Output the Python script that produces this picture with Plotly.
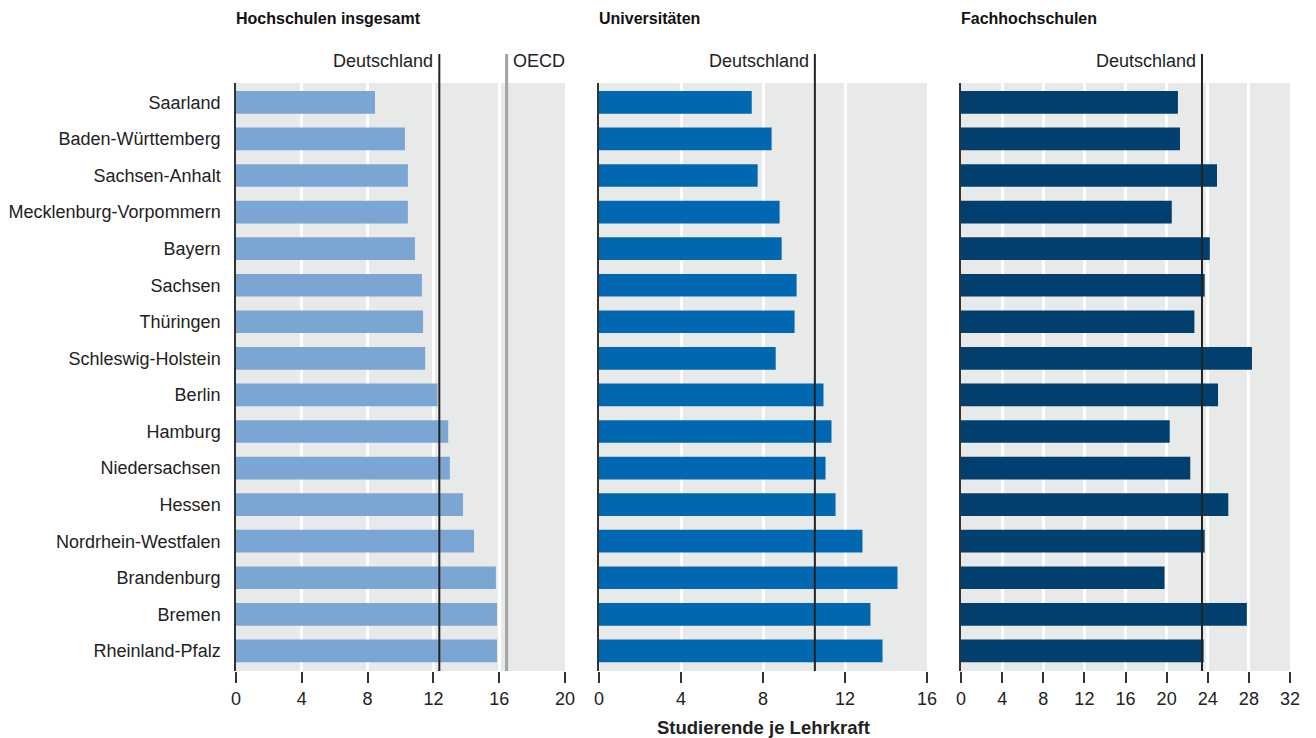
import plotly.graph_objects as go
from plotly.subplots import make_subplots

laender = [
    "Saarland", "Baden-Württemberg", "Sachsen-Anhalt", "Mecklenburg-Vorpommern",
    "Bayern", "Sachsen", "Thüringen", "Schleswig-Holstein", "Berlin", "Hamburg",
    "Niedersachsen", "Hessen", "Nordrhein-Westfalen", "Brandenburg", "Bremen",
    "Rheinland-Pfalz",
]
hochschulen = [8.45, 10.27, 10.45, 10.45, 10.88, 11.3, 11.37, 11.5, 12.25, 12.9,
               13.0, 13.8, 14.47, 15.8, 15.87, 15.87]
universitaeten = [7.45, 8.42, 7.74, 8.81, 8.91, 9.64, 9.54, 8.62, 10.95, 11.34,
                  11.05, 11.54, 12.85, 14.56, 13.24, 13.83]
fachhochschulen = [21.1, 21.3, 24.9, 20.5, 24.2, 23.7, 22.7, 28.3, 25.0, 20.3,
                   22.3, 26.0, 23.7, 19.8, 27.8, 23.6]

deutschland = [12.36, 10.53, 23.44]
oecd = 16.45

titles = ["Hochschulen insgesamt", "Universitäten", "Fachhochschulen"]
x_max = [20, 16, 32]
colors = ["#7ba6d4", "#0068b0", "#003f6e"]

W, H = 1316, 738
px_dom = [(236, 565), (599, 927), (961, 1290)]
y_top, y_bot = 83, 671


def px(x):
    return x / W


def py(y):
    return 1 - y / H


fig = make_subplots(rows=1, cols=3)
font = "Liberation Sans, Arial, sans-serif"

for i, vals in enumerate([hochschulen, universitaeten, fachhochschulen]):
    col = i + 1
    fig.add_trace(
        go.Bar(
            x=vals, y=laender, orientation="h", width=0.62,
            marker=dict(color=colors[i], line=dict(width=0)),
            showlegend=False,
            hovertemplate="%{y}: %{x}<extra></extra>",
        ),
        row=1, col=col,
    )
    xa = "xaxis" if i == 0 else f"xaxis{col}"
    ya = "yaxis" if i == 0 else f"yaxis{col}"
    xref = "x" if i == 0 else f"x{col}"
    fig.layout[xa].update(
        domain=[px(px_dom[i][0]), px(px_dom[i][1])],
        range=[0, x_max[i]],
        tickvals=list(range(0, x_max[i] + 1, 4)),
        showgrid=True, gridcolor="white", gridwidth=2.5,
        zeroline=False, showline=False, automargin=False,
        ticks="outside", ticklen=11, tickwidth=1.5, tickcolor="#333",
        tickfont=dict(size=18, color="#222", family=font),
        fixedrange=True,
    )
    fig.layout[ya].update(
        domain=[py(y_bot), py(y_top)],
        range=[15.55, -0.53],
        showgrid=False, zeroline=False, automargin=False,
        showline=True, linecolor="#333", linewidth=1.5,
        ticks="", showticklabels=(i == 0),
        ticklabelstandoff=10,
        tickfont=dict(size=18, color="#222", family=font),
        fixedrange=True,
    )

    # Deutschland reference line
    fig.add_shape(
        type="line", xref=xref, yref="paper",
        x0=deutschland[i], x1=deutschland[i], y0=py(y_bot), y1=py(54),
        line=dict(color="#222", width=2), layer="above",
    )
    fig.add_annotation(
        x=deutschland[i], xref=xref, y=py(61), yref="paper",
        text="Deutschland", showarrow=False, xanchor="right", yanchor="middle",
        xshift=-4, font=dict(size=18, color="#222", family=font),
    )
    fig.add_annotation(
        x=px(px_dom[i][0] - 2), xref="paper", y=py(19), yref="paper",
        text=f"<b>{titles[i]}</b>", showarrow=False, xanchor="left",
        yanchor="middle", font=dict(size=16, color="#111", family=font),
    )

# OECD reference line (first panel)
fig.add_shape(
    type="line", xref="x", yref="paper",
    x0=oecd, x1=oecd, y0=py(y_bot), y1=py(54),
    line=dict(color="#a3a3a3", width=3), layer="above",
)
fig.add_annotation(
    x=oecd, xref="x", y=py(61), yref="paper",
    text="OECD", showarrow=False, xanchor="left", yanchor="middle",
    xshift=4, font=dict(size=18, color="#222", family=font),
)

fig.add_annotation(
    x=px(763), xref="paper", y=py(727), yref="paper",
    text="<b>Studierende je Lehrkraft</b>", showarrow=False,
    xanchor="center", yanchor="middle",
    font=dict(size=18.5, color="#222", family=font),
)

fig.update_layout(
    width=W, height=H,
    margin=dict(l=0, r=0, t=0, b=0, autoexpand=False),
    paper_bgcolor="white",
    plot_bgcolor="#e8e9e9",
    bargap=0.38,
    font=dict(family=font),
)

fig.write_html(
    "out.html",
    config={"displayModeBar": False},
    post_script="document.body.style.margin='0';",
)
